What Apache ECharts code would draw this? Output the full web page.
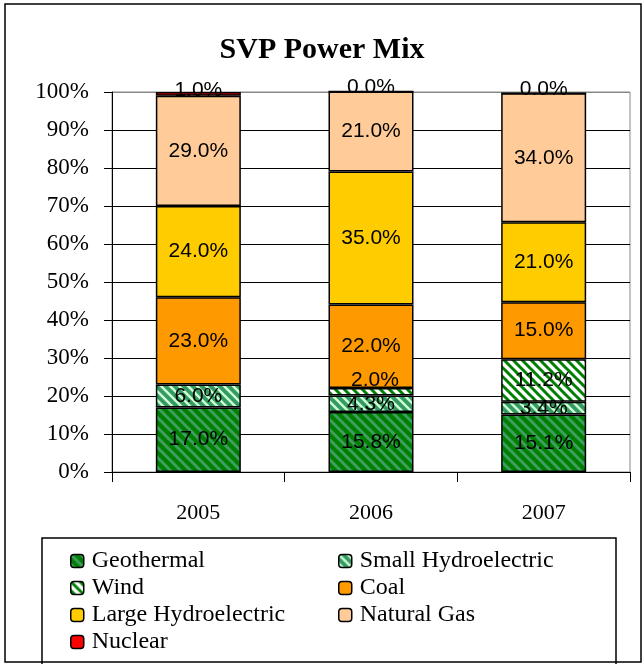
<!DOCTYPE html>
<html>
<head>
<meta charset="utf-8">
<title>SVP Power Mix</title>
<script src="https://cdn.jsdelivr.net/npm/echarts@6/dist/echarts.min.js"></script>
<style>
  html, body { margin: 0; padding: 0; background: #fff; }
  #chart { width: 644px; height: 664px; }
</style>
</head>
<body>
<div id="chart"></div>
<script>
// categories and series values (percent)
var years = ['2005', '2006', '2007'];
var geothermal = [17.0, 15.8, 15.1];
var smallHydro = [6.0, 4.3, 3.4];
var wind = [null, 2.0, 11.2];
var coal = [23.0, 22.0, 15.0];
var largeHydro = [24.0, 35.0, 21.0];
var naturalGas = [29.0, 21.0, 34.0];
var nuclear = [1.0, 0.0, 0.0];

// striped fill, stripes running top-left to bottom-right
function makeStripes(bg, fg, size, lw) {
  var c = document.createElement('canvas');
  c.width = size;
  c.height = size;
  var ctx = c.getContext('2d');
  ctx.fillStyle = bg;
  ctx.fillRect(0, 0, size, size);
  ctx.strokeStyle = fg;
  ctx.lineWidth = lw;
  for (var k = -1; k <= 1; k++) {
    ctx.beginPath();
    ctx.moveTo(k * size - 1, -1);
    ctx.lineTo(k * size + size + 1, size + 1);
    ctx.stroke();
  }
  return { image: c, repeat: 'repeat' };
}

var geoFill = makeStripes('#008000', '#3f9e60', 10, 3);
var smallFill = makeStripes('#339966', '#ccffcc', 9, 2.5);
var windFill = makeStripes('#ffffff', '#008000', 9, 3);

var labelFont = { fontFamily: 'Liberation Sans, Arial, sans-serif', fontSize: 21, color: '#000' };

function pct(p) {
  if (p.value == null) return '';
  return p.value.toFixed(1) + '%';
}

function makeSeries(name, data, fill, extra) {
  var s = {
    name: name,
    type: 'bar',
    stack: 'mix',
    barWidth: 85,
    clip: false,
    data: data,
    itemStyle: { color: fill, borderColor: '#000', borderWidth: 1.5 },
    label: Object.assign({ show: true, position: 'inside', formatter: pct }, labelFont)
  };
  if (extra) Object.assign(s.label, extra);
  return s;
}

// the 2006 wind label sits a little above its thin slice
var windData = wind.map(function (v, i) {
  if (i == 1) return { value: v, label: { offset: [4, -12] } };
  return v;
});

var series = [
  makeSeries('Geothermal', geothermal, geoFill),
  makeSeries('Small Hydroelectric', smallHydro, smallFill),
  makeSeries('Wind', windData, windFill),
  makeSeries('Coal', coal, '#ff9900'),
  makeSeries('Large Hydroelectric', largeHydro, '#ffcc00'),
  makeSeries('Natural Gas', naturalGas, '#ffcc99'),
  makeSeries('Nuclear', nuclear, '#ff0000', { offset: [0, -4] })
];

var serif = 'Liberation Serif, Times New Roman, serif';
var gridColors = ['#000', '#000', '#000', '#000', '#000', '#000', '#000', '#000', '#000', '#000', '#888'];

var legendBase = {
  orient: 'vertical',
  top: 549,
  padding: 0,
  itemWidth: 13,
  itemHeight: 13,
  itemGap: 3,
  itemStyle: { borderColor: '#000', borderWidth: 1.5 },
  textStyle: { fontFamily: serif, fontSize: 24, color: '#000', padding: [0, 0, 0, 3] },
  selectedMode: false
};

var option = {
  backgroundColor: '#fff',
  animation: false,
  title: {
    text: 'SVP Power Mix',
    left: 'center',
    top: 30,
    textStyle: { fontFamily: serif, fontSize: 30, fontWeight: 'bold', color: '#000' }
  },
  grid: {
    left: 112,
    right: 14,
    top: 92,
    bottom: 192,
    show: true,
    borderColor: '#888',
    borderWidth: 1
  },
  legend: [
    Object.assign({}, legendBase, { left: 70, data: ['Geothermal', 'Wind', 'Large Hydroelectric', 'Nuclear'] }),
    Object.assign({}, legendBase, { left: 338, data: ['Small Hydroelectric', 'Coal', 'Natural Gas'] })
  ],
  xAxis: {
    type: 'category',
    data: years,
    axisLine: { lineStyle: { color: '#000', width: 1 } },
    axisTick: { show: true, length: 10, lineStyle: { color: '#000' } },
    axisLabel: { fontFamily: serif, fontSize: 22, color: '#000', margin: 30 }
  },
  yAxis: {
    type: 'value',
    min: 0,
    max: 100,
    interval: 10,
    axisLine: { show: true, lineStyle: { color: '#000', width: 1 } },
    axisTick: { show: true, length: 8, lineStyle: { color: '#000' } },
    axisLabel: { fontFamily: serif, fontSize: 23, color: '#000', margin: 23, formatter: '{value}%' },
    splitLine: { show: true, lineStyle: { color: gridColors, width: 1 } }
  },
  graphic: [
    // outer chart frame
    { type: 'rect', shape: { x: 5, y: 4, width: 636, height: 658 }, style: { fill: null, stroke: '#000', lineWidth: 1.5 }, z: 100 },
    // legend box
    { type: 'rect', shape: { x: 42, y: 538, width: 574, height: 140 }, style: { fill: null, stroke: '#000', lineWidth: 1.5 }, z: 100 }
  ],
  series: series
};

var chart = echarts.init(document.getElementById('chart'));
chart.setOption(option);
</script>
</body>
</html>
